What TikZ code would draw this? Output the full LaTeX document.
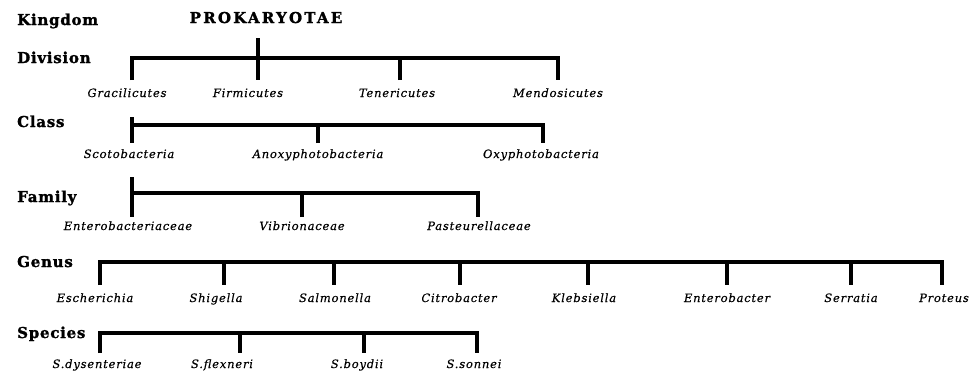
\documentclass[tikz,border=0pt]{standalone}
\usepackage{fontspec}
\newfontfamily\rankfont{DejaVu Serif}[LetterSpace=5,FakeBold=1.5]
\newfontfamily\headfont{DejaVu Serif}[LetterSpace=15,FakeBold=1.5]
\newfontfamily\taxfont{DejaVu Serif}[LetterSpace=7,FakeBold=0.4]
\begin{document}
\begin{tikzpicture}[x=1pt,y=-1pt,
  rank/.style={anchor=base west, inner sep=0pt, font=\rankfont\bfseries\fontsize{15}{15}\selectfont},
  head/.style={anchor=base, inner sep=0pt, font=\headfont\bfseries\fontsize{15}{15}\selectfont},
  taxon/.style={anchor=base, inner sep=0pt, font=\taxfont\itshape\fontsize{11.5}{11.5}\selectfont},
  tree/.style={line width=3.5pt, line cap=butt, line join=miter}]
\useasboundingbox (0,0) rectangle (974,375);

% rank names down the left side
\node[rank] (r-kingdom)  at (17,25)  {Kingdom};
\node[rank] (r-division) at (17,63)  {Division};
\node[rank] (r-class)    at (17,127) {Class};
\node[rank] (r-family)   at (17,202) {Family};
\node[rank] (r-genus)    at (17,267) {Genus};
\node[rank] (r-species)  at (17,338) {Species};

% kingdom
\node[head] (prok) at (266,23) {PROKARYOTAE};

% divisions
\node[taxon] (gra) at (127,97) {Gracilicutes};
\node[taxon] (fir) at (248,97) {Firmicutes};
\node[taxon] (ten) at (397,97) {Tenericutes};
\node[taxon] (men) at (558,97) {Mendosicutes};
\coordinate (div-top) at (258,38);
\coordinate (div-a) at (132,80);
\coordinate (div-b) at (258,80);
\coordinate (div-c) at (400,80);
\coordinate (div-d) at (558,80);
\draw[tree] (div-a) -- ++(0,-22) -| (div-d);
\draw[tree] (div-top) -- (div-b);
\draw[tree] (div-c) -- ++(0,-22);

% classes
\node[taxon] (sco) at (129,158) {Scotobacteria};
\node[taxon] (ano) at (318,158) {Anoxyphotobacteria};
\node[taxon] (oxy) at (541,158) {Oxyphotobacteria};
\coordinate (cls-top) at (132,117);
\coordinate (cls-a) at (132,143);
\coordinate (cls-b) at (318,143);
\coordinate (cls-c) at (543,143);
\draw[tree] (cls-top) -- (cls-a);
\draw[tree] (cls-a |- 0,125) -| (cls-c);
\draw[tree] (cls-b) -- ++(0,-18);

% families
\node[taxon] (ent) at (128,230) {Enterobacteriaceae};
\node[taxon] (vib) at (302,230) {Vibrionaceae};
\node[taxon] (pas) at (479,230) {Pasteurellaceae};
\coordinate (fam-top) at (132,177);
\coordinate (fam-a) at (132,217);
\coordinate (fam-b) at (302,217);
\coordinate (fam-c) at (478,217);
\draw[tree] (fam-top) -- (fam-a);
\draw[tree] (fam-a |- 0,193) -| (fam-c);
\draw[tree] (fam-b) -- ++(0,-24);

% genera
\node[taxon] (esc) at (95,302)  {Escherichia};
\node[taxon] (shi) at (216,302) {Shigella};
\node[taxon] (sal) at (335,302) {Salmonella};
\node[taxon] (cit) at (459,302) {Citrobacter};
\node[taxon] (kle) at (584,302) {Klebsiella};
\node[taxon] (enb) at (727,302) {Enterobacter};
\node[taxon] (ser) at (851,302) {Serratia};
\node[taxon] (pro) at (944,302) {Proteus};
\coordinate (gen-a) at (100,285);
\coordinate (gen-h) at (942,285);
\draw[tree] (gen-a) -- ++(0,-23) -| (gen-h);
\foreach \x in {224,334,460,588,727,851}
  \draw[tree] (\x,262) -- (\x,285);

% species
\node[taxon] (dys) at (97,368)  {S.dysenteriae};
\node[taxon] (fle) at (222,368) {S.flexneri};
\node[taxon] (boy) at (357,368) {S.boydii};
\node[taxon] (son) at (474,368) {S.sonnei};
\coordinate (spe-a) at (100,353);
\coordinate (spe-d) at (477,353);
\draw[tree] (spe-a) -- ++(0,-20) -| (spe-d);
\foreach \x in {240,364}
  \draw[tree] (\x,333) -- (\x,353);
\end{tikzpicture}
\end{document}
